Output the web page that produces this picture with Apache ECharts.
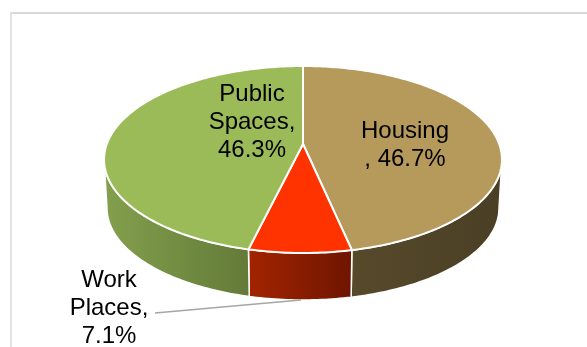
<!DOCTYPE html>
<html>
<head>
<meta charset="utf-8">
<style>
  html, body { margin: 0; padding: 0; background: #fff; }
  #chart { width: 587px; height: 347px; }
</style>
<script src="https://cdn.jsdelivr.net/npm/echarts@6/dist/echarts.min.js"></script>
</head>
<body>
<div id="chart"></div>
<script>
const categories = ['Housing', 'Work Places', 'Public Spaces'];
const shares = [46.7, 7.1, 46.3];
const labelLines = [['Housing', ', 46.7%'], ['Work', 'Places,', '7.1%'], ['Public', 'Spaces,', '46.3%']];

const topColors = ['#b59a5b', '#ff3300', '#9bbb59'];
const sideLeftColors = ['#574a2b', '#a32400', '#83a04d'];
const sideRightColors = ['#4a3e25', '#6e1500', '#637a38'];

// perspective disc, the apex of the slices sits above the middle of the ellipse
const tilt = 0.1658;
const topDisc = { cx: 303, cy: 144, a: 196.2, b: 90.9 };
const bottomDisc = { cx: 303, cy: 192.7, a: 193.3, b: 89.5 };
const labelSpots = [[405, 145], [109, 308], [252, 122]];
const lineHeight = 28;

const total = shares.reduce((s, v) => s + v, 0);

function project(disc, angle) {
  const u = Math.sin(angle);
  const v = -Math.cos(angle);
  const d = 1 - tilt * v;
  return [disc.cx + (disc.a * u) / d, disc.cy + (disc.b * v) / d];
}

function arc(disc, from, to) {
  const pts = [];
  const steps = Math.max(4, Math.ceil(Math.abs(to - from) * 60));
  for (let i = 0; i <= steps; i++) {
    pts.push(project(disc, from + ((to - from) * i) / steps));
  }
  return pts;
}

function sliceAngles(index) {
  let before = 0;
  for (let i = 0; i < index; i++) before += shares[i];
  const k = (Math.PI * 2) / total;
  return [before * k, (before + shares[index]) * k];
}

// only the front of the rim can be seen
const rimFrom = Math.PI / 2 + Math.asin(tilt);
const rimTo = Math.PI * 1.5 - Math.asin(tilt);

function renderSide(params) {
  const [start, end] = sliceAngles(params.dataIndex);
  const from = Math.max(start, rimFrom);
  const to = Math.min(end, rimTo);
  return {
    type: 'polygon',
    shape: { points: arc(topDisc, from, to).concat(arc(bottomDisc, to, from)) },
    style: {
      fill: new echarts.graphic.LinearGradient(0, 0, 1, 0, [
        { offset: 0, color: sideLeftColors[params.dataIndex] },
        { offset: 1, color: sideRightColors[params.dataIndex] }
      ]),
      stroke: '#fff',
      lineWidth: 1.5
    }
  };
}

function renderTop(params) {
  const [start, end] = sliceAngles(params.dataIndex);
  return {
    type: 'polygon',
    shape: { points: [[topDisc.cx, topDisc.cy]].concat(arc(topDisc, start, end)) },
    style: { fill: topColors[params.dataIndex], stroke: '#fff', lineWidth: 2 }
  };
}

function renderLabel(params) {
  const spot = labelSpots[params.dataIndex];
  return {
    type: 'text',
    style: {
      x: spot[0],
      y: spot[1],
      text: labelLines[params.dataIndex].join('\n'),
      fill: '#000',
      font: '24px "Liberation Sans", Arial, sans-serif',
      lineHeight: lineHeight,
      align: 'center',
      verticalAlign: 'middle'
    }
  };
}

const pieData = categories.map((name, i) => ({ name, value: shares[i] }));

const myChart = echarts.init(document.getElementById('chart'), null, { renderer: 'canvas' });
myChart.setOption({
  animation: false,
  backgroundColor: '#fff',
  tooltip: { show: false },
  graphic: [
    { type: 'rect', shape: { x: 10, y: 12, width: 577, height: 2 }, style: { fill: '#d9d9d9' }, silent: true },
    { type: 'rect', shape: { x: 10, y: 12, width: 2, height: 335 }, style: { fill: '#e2e2e2' }, silent: true },
    {
      type: 'polyline',
      shape: { points: [[155, 313], [301, 300]] },
      style: { stroke: '#a6a6a6', lineWidth: 1.5, fill: null },
      silent: true,
      z: 8
    }
  ],
  series: [
    { type: 'custom', coordinateSystem: 'none', data: pieData, renderItem: renderSide, z: 2, silent: true },
    { type: 'custom', coordinateSystem: 'none', data: pieData, renderItem: renderTop, z: 3, silent: true },
    { type: 'custom', coordinateSystem: 'none', data: pieData, renderItem: renderLabel, z: 10, silent: true }
  ]
});
</script>
</body>
</html>
